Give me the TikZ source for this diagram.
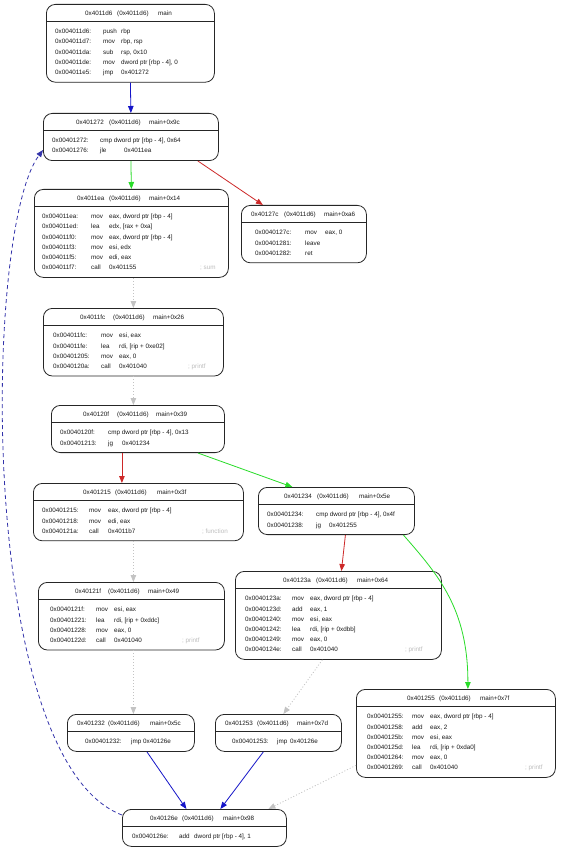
\documentclass[tikz,border=0pt]{standalone}
\usepackage{fontspec}
\setmainfont{Liberation Sans}
\usetikzlibrary{arrows.meta}
\definecolor{cblue}{RGB}{20,20,200}
\definecolor{cgreen}{RGB}{40,220,40}
\definecolor{cred}{RGB}{205,40,40}
\definecolor{cgray}{RGB}{195,195,195}
\definecolor{cdash}{RGB}{50,50,170}
\definecolor{ccmt}{RGB}{190,190,190}
\tikzset{
  txt/.style={font=\fontsize{6.3pt}{7pt}\selectfont, inner sep=0pt, anchor=base west, text=black!90},
  cmtxt/.style={txt, text=ccmt},
  blk/.style={draw=black!85, line width=0.8pt, rounded corners=9pt, inner sep=0pt, fill=white},
  divl/.style={draw=black!85, line width=0.8pt},
  edge/.style={line width=0.8pt, -{Triangle[length=7pt,width=5.5pt]}},
  eblue/.style={edge, draw=cblue},
  egreen/.style={edge, draw=cgreen},
  ered/.style={edge, draw=cred},
  egray/.style={edge, draw=cgray, dash pattern=on 1pt off 2pt},
  edash/.style={edge, draw=cdash, dash pattern=on 4pt off 3pt},
}
\newcommand\blk[5]{%
  \pgfmathsetmacro\bh{37+10.2*(#5-1)}%
  \node[blk, minimum width=#4pt, minimum height=\bh pt, anchor=north west] (#1) at (#2,#3) {};
  \draw[divl] ([yshift=-17.5pt]#1.north west) -- ([yshift=-17.5pt]#1.north east);}
\newcommand\hd[8]{%
  \node[txt] (#1h1) at (#3,#2+11.3) {#4};
  \node[txt] (#1h2) at (#5,#2+11.3) {#6};
  \node[txt] (#1h3) at (#7,#2+11.3) {#8};}
\newcommand\ins[9]{%
  \node[txt] (#1a) at (#4,#2+29.8+10.2*#3) {#5};
  \node[txt] (#1m) at (#6,#2+29.8+10.2*#3) {#7};
  \node[txt] (#1o) at (#8,#2+29.8+10.2*#3) {#9};}
\newcommand\insb[7]{%
  \node[txt] (#1a) at (#4,#2+29.8+10.2*#3) {#5};
  \node[txt] (#1m) at (#6,#2+29.8+10.2*#3) {#7};}
\newcommand\cmt[5]{%
  \node[cmtxt] (#1) at (#4,#2+29.8+10.2*#3) {#5};}
\begin{document}
\begin{tikzpicture}[x=1pt,y=-1pt]
\useasboundingbox[fill=white] (0,0) rectangle (566,850);
% B1
\blk{b1}{46}{4}{168}{5}
\hd{b1}{4}{85}{0x4011d6}{117}{(0x4011d6)}{158}{main}
\ins{b1r0}{4}{0}{55}{0x004011d6:}{103}{push}{121}{rbp}
\ins{b1r1}{4}{1}{55}{0x004011d7:}{103}{mov}{121}{rbp, rsp}
\ins{b1r2}{4}{2}{55}{0x004011da:}{103}{sub}{121}{rsp, 0x10}
\ins{b1r3}{4}{3}{55}{0x004011de:}{103}{mov}{121}{dword ptr [rbp - 4], 0}
\ins{b1r4}{4}{4}{55}{0x004011e5:}{103}{jmp}{121}{0x401272}
% B2
\blk{b2}{43}{113}{175}{2}
\hd{b2}{113}{76}{0x401272}{109}{(0x4011d6)}{149}{main+0x9c}
\insb{b2r0}{113}{0}{52}{0x00401272:}{100}{cmp dword ptr [rbp - 4], 0x64}
\ins{b2r1}{113}{1}{52}{0x00401276:}{100}{jle}{124}{0x4011ea}
% B3
\blk{b3}{34}{189}{194}{6}
\hd{b3}{189}{77}{0x4011ea}{109}{(0x4011d6)}{149}{main+0x14}
\ins{b3r0}{189}{0}{42}{0x004011ea:}{91}{mov}{109}{eax, dword ptr [rbp - 4]}
\ins{b3r1}{189}{1}{42}{0x004011ed:}{91}{lea}{109}{edx, [rax + 0xa]}
\ins{b3r2}{189}{2}{42}{0x004011f0:}{91}{mov}{109}{eax, dword ptr [rbp - 4]}
\ins{b3r3}{189}{3}{42}{0x004011f3:}{91}{mov}{109}{esi, edx}
\ins{b3r4}{189}{4}{42}{0x004011f5:}{91}{mov}{109}{edi, eax}
\ins{b3r5}{189}{5}{42}{0x004011f7:}{91}{call}{109}{0x401155}
\cmt{b3c}{189}{5}{200}{; sum}
% B4
\blk{b4}{241}{205}{125}{3}
\hd{b4}{205}{251}{0x40127c}{284}{(0x4011d6)}{324}{main+0xa6}
\ins{b4r0}{205}{0}{255}{0x0040127c:}{305}{mov}{325}{eax, 0}
\insb{b4r1}{205}{1}{255}{0x00401281:}{305}{leave}
\insb{b4r2}{205}{2}{255}{0x00401282:}{305}{ret}
% B5
\blk{b5}{43}{308}{180}{4}
\hd{b5}{308}{80}{0x4011fc}{113}{(0x4011d6)}{153}{main+0x26}
\ins{b5r0}{308}{0}{53}{0x004011fc:}{101}{mov}{119}{esi, eax}
\ins{b5r1}{308}{1}{53}{0x004011fe:}{101}{lea}{119}{rdi, [rip + 0xe02]}
\ins{b5r2}{308}{2}{53}{0x00401205:}{101}{mov}{119}{eax, 0}
\ins{b5r3}{308}{3}{53}{0x0040120a:}{101}{call}{119}{0x401040}
\cmt{b5c}{308}{3}{188}{; printf}
% B6
\blk{b6}{51}{405}{173}{2}
\hd{b6}{405}{83}{0x40120f}{117}{(0x4011d6)}{156}{main+0x39}
\insb{b6r0}{405}{0}{60}{0x0040120f:}{108}{cmp dword ptr [rbp - 4], 0x13}
\ins{b6r1}{405}{1}{60}{0x00401213:}{108}{jg}{122}{0x401234}
% B7
\blk{b7}{33}{483}{210}{3}
\hd{b7}{483}{83}{0x401215}{115}{(0x4011d6)}{157}{main+0x3f}
\ins{b7r0}{483}{0}{42}{0x00401215:}{89}{mov}{108}{eax, dword ptr [rbp - 4]}
\ins{b7r1}{483}{1}{42}{0x00401218:}{89}{mov}{108}{edi, eax}
\ins{b7r2}{483}{2}{42}{0x0040121a:}{89}{call}{108}{0x4011b7}
\cmt{b7c}{483}{2}{202}{; function}
% B8
\blk{b8}{258}{487}{156}{2}
\hd{b8}{487}{284}{0x401234}{317}{(0x4011d6)}{359}{main+0x5e}
\insb{b8r0}{487}{0}{267}{0x00401234:}{316}{cmp dword ptr [rbp - 4], 0x4f}
\ins{b8r1}{487}{1}{267}{0x00401238:}{316}{jg}{329}{0x401255}
% B9
\blk{b9}{38}{582}{186}{4}
\hd{b9}{582}{75}{0x40121f}{108}{(0x4011d6)}{148}{main+0x49}
\ins{b9r0}{582}{0}{50}{0x0040121f:}{96}{mov}{114}{esi, eax}
\ins{b9r1}{582}{1}{50}{0x00401221:}{96}{lea}{114}{rdi, [rip + 0xddc]}
\ins{b9r2}{582}{2}{50}{0x00401228:}{96}{mov}{114}{eax, 0}
\ins{b9r3}{582}{3}{50}{0x0040122d:}{96}{call}{114}{0x401040}
\cmt{b9c}{582}{3}{182}{; printf}
% B10
\blk{b10}{235}{571}{206}{6}
\hd{b10}{571}{283}{0x40123a}{316}{(0x4011d6)}{357}{main+0x64}
\ins{b10r0}{571}{0}{245}{0x0040123a:}{292}{mov}{310}{eax, dword ptr [rbp - 4]}
\ins{b10r1}{571}{1}{245}{0x0040123d:}{292}{add}{310}{eax, 1}
\ins{b10r2}{571}{2}{245}{0x00401240:}{292}{mov}{310}{esi, eax}
\ins{b10r3}{571}{3}{245}{0x00401242:}{292}{lea}{310}{rdi, [rip + 0xdbb]}
\ins{b10r4}{571}{4}{245}{0x00401249:}{292}{mov}{310}{eax, 0}
\ins{b10r5}{571}{5}{245}{0x0040124e:}{292}{call}{310}{0x401040}
\cmt{b10c}{571}{5}{405}{; printf}
% B11
\blk{b11}{356}{689}{199}{6}
\hd{b11}{689}{407}{0x401255}{439}{(0x4011d6)}{480}{main+0x7f}
\ins{b11r0}{689}{0}{367}{0x00401255:}{412}{mov}{430}{eax, dword ptr [rbp - 4]}
\ins{b11r1}{689}{1}{367}{0x00401258:}{412}{add}{430}{eax, 2}
\ins{b11r2}{689}{2}{367}{0x0040125b:}{412}{mov}{430}{esi, eax}
\ins{b11r3}{689}{3}{367}{0x0040125d:}{412}{lea}{430}{rdi, [rip + 0xda0]}
\ins{b11r4}{689}{4}{367}{0x00401264:}{412}{mov}{430}{eax, 0}
\ins{b11r5}{689}{5}{367}{0x00401269:}{412}{call}{430}{0x401040}
\cmt{b11c}{689}{5}{525}{; printf}
% B12
\blk{b12}{67}{714}{127}{1}
\hd{b12}{714}{77}{0x401232}{108}{(0x4011d6)}{150}{main+0x5c}
\ins{b12r0}{714}{0}{85}{0x00401232:}{131}{jmp}{143}{0x40126e}
% B13
\blk{b13}{215}{714}{126}{1}
\hd{b13}{714}{225}{0x401253}{257}{(0x4011d6)}{297}{main+0x7d}
\ins{b13r0}{714}{0}{232}{0x00401253:}{277}{jmp}{290}{0x40126e}
% B14
\blk{b14}{122}{809}{164}{1}
\hd{b14}{809}{150}{0x40126e}{182}{(0x4011d6)}{223}{main+0x98}
\ins{b14r0}{809}{0}{132}{0x0040126e:}{179}{add}{194}{dword ptr [rbp - 4], 1}
% edges
\draw[eblue] (b1.south) -- (b2.north);
\draw[egreen] (b2.south) -- (b3.north);
\draw[ered] ([xshift=67pt]b2.south) -- ([xshift=-41pt]b4.north);
\draw[egray] ([xshift=2pt]b3.south) -- (b5.north);
\draw[egray] (b5.south) -- (b5.south |- b6.north);
\draw[ered] ([xshift=-16pt]b6.south) -- ([xshift=-16.5pt]b7.north);
\draw[egreen] ([xshift=60pt]b6.south) -- ([xshift=-44pt]b8.north);
\draw[egray] ([xshift=-5pt]b7.south) -- ([xshift=2pt]b9.north);
\draw[ered] ([xshift=9pt]b8.south) -- ([xshift=3pt]b10.north);
\draw[egreen] ([xshift=67pt]b8.south) .. controls +(35,40) and +(0,-80) .. ([xshift=12pt]b11.north);
\draw[egray] ([xshift=2pt]b9.south) -- ([xshift=2.5pt]b12.north);
\draw[egray] ([xshift=-16pt]b10.south) -- ([xshift=5pt]b13.north);
\draw[eblue] ([xshift=16pt]b12.south) -- ([xshift=-18pt]b14.north);
\draw[eblue] ([xshift=-15pt]b13.south) -- ([xshift=16pt]b14.north);
\draw[egray] ([yshift=-32pt]b11.west) -- ([xshift=64pt]b14.north);
\draw[edash] ([yshift=-6pt]b14.north west) .. controls +(-145,-55) and +(-60,80) .. ([yshift=-13pt]b2.west);
\end{tikzpicture}
\end{document}
